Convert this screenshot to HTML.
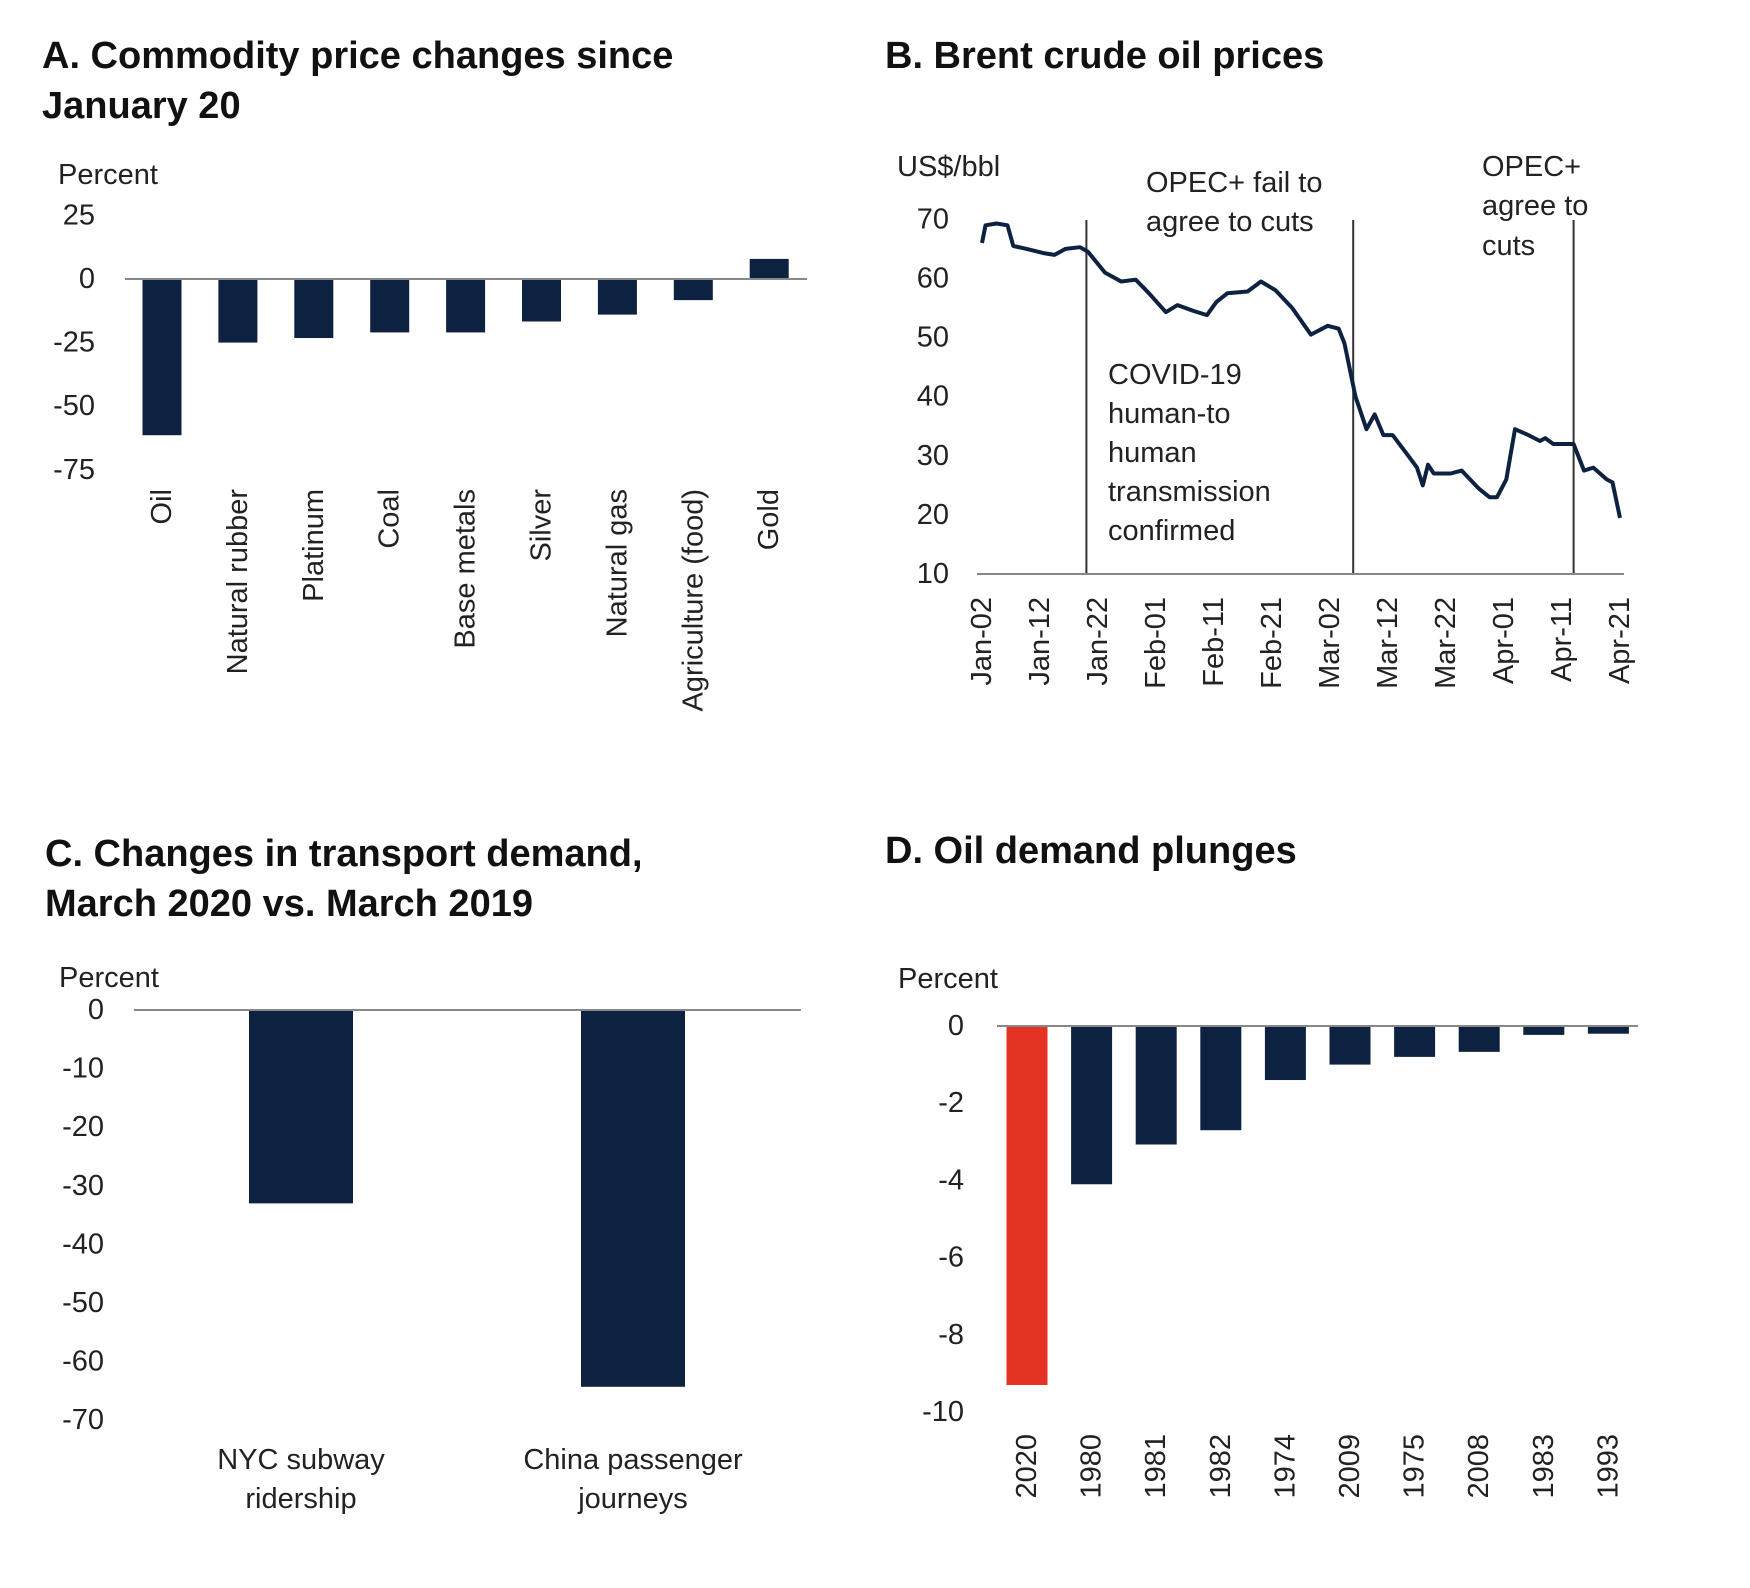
<!DOCTYPE html>
<html><head><meta charset="utf-8"><style>
html,body{margin:0;padding:0;background:#fff}
svg{display:block;font-family:"Liberation Sans",Arial,sans-serif}
.t{font-weight:bold;font-size:38px;fill:#111}
.k{font-size:29px;fill:#222}
</style></head><body>
<svg id="s" width="1750" height="1588" viewBox="0 0 1750 1588" xmlns="http://www.w3.org/2000/svg">
<text class="t" x="42" y="56" dominant-baseline="central">A. Commodity price changes since</text>
<text class="t" x="42" y="106" dominant-baseline="central">January 20</text>
<text class="t" x="885" y="56" dominant-baseline="central">B. Brent crude oil prices</text>
<text class="t" x="45" y="854" dominant-baseline="central">C. Changes in transport demand,</text>
<text class="t" x="45" y="904" dominant-baseline="central">March 2020 vs. March 2019</text>
<text class="t" x="885" y="851" dominant-baseline="central">D. Oil demand plunges</text>
<text class="k" x="58" y="175" dominant-baseline="central">Percent</text>
<text class="k" x="897" y="167" dominant-baseline="central">US$/bbl</text>
<text class="k" x="59" y="978" dominant-baseline="central">Percent</text>
<text class="k" x="898" y="979" dominant-baseline="central">Percent</text>
<g>
<text class="k" x="1146" y="183" dominant-baseline="central">OPEC+ fail to</text>
<text class="k" x="1146" y="222" dominant-baseline="central">agree to cuts</text></g>
<g>
<text class="k" x="1482" y="167" dominant-baseline="central">OPEC+</text>
<text class="k" x="1482" y="206" dominant-baseline="central">agree to</text>
<text class="k" x="1482" y="246" dominant-baseline="central">cuts</text></g>
<g>
<text class="k" x="1108" y="375" dominant-baseline="central">COVID-19</text>
<text class="k" x="1108" y="414" dominant-baseline="central">human-to</text>
<text class="k" x="1108" y="453" dominant-baseline="central">human</text>
<text class="k" x="1108" y="492" dominant-baseline="central">transmission</text>
<text class="k" x="1108" y="531" dominant-baseline="central">confirmed</text></g>
</svg>
<script>
// Panel A data
const aCats=["Oil","Natural rubber","Platinum","Coal","Base metals","Silver","Natural gas","Agriculture (food)","Gold"];
const aVals=[-61.4,-25,-23.2,-21,-21,-16.7,-14,-8.3,7.9];
const aTicks=[25,0,-25,-50,-75];
// Panel B data (days since Jan-02, price)
const bDays=[0,0.6,2.5,4.4,5.4,7.7,10.6,12.5,14.4,16.9,18.3,21.2,24,26.5,28.8,31.7,33.7,36.5,38.8,40.4,42.3,45.8,48.1,50.6,53.5,56.7,59.6,61.5,62.5,64.4,66.3,67.7,69.2,70.8,73.5,75,76,76.9,77.9,80.8,82.7,85.6,87.5,88.8,90.4,91.9,94.2,96.2,97.1,98.5,101,102,103.8,105.4,107.7,108.7,110];
const bVals=[66,69,69.3,69,65.5,65,64.3,64,65,65.3,64.5,61,59.5,59.8,57.5,54.3,55.5,54.5,53.8,56,57.5,57.8,59.5,58,55,50.5,52,51.5,49,40,34.5,37,33.5,33.5,30,28,25,28.5,27,27,27.5,24.5,23,23,26,34.5,33.5,32.5,33,32,32,32,27.5,28,26,25.5,19.5];
const bTicks=[70,60,50,40,30,20,10];
const bLabels=["Jan-02","Jan-12","Jan-22","Feb-01","Feb-11","Feb-21","Mar-02","Mar-12","Mar-22","Apr-01","Apr-11","Apr-21"];
const bEvents=[18,64,102];
// Panel C data
const cCats=["NYC subway|ridership","China passenger|journeys"];
const cVals=[-33,-64.3];
const cTicks=[0,-10,-20,-30,-40,-50,-60,-70];
// Panel D data
const dCats=["2020","1980","1981","1982","1974","2009","1975","2008","1983","1993"];
const dVals=[-9.3,-4.1,-3.07,-2.7,-1.4,-1.0,-0.8,-0.67,-0.23,-0.2];
const dTicks=[0,-2,-4,-6,-8,-10];

const NS="http://www.w3.org/2000/svg",S=document.getElementById('s');
function mk(t,a,p){const e=document.createElementNS(NS,t);for(const k in a)e.setAttribute(k,a[k]);(p||S).appendChild(e);return e;}
const NAVY="#0d2240";

// A
const aY=v=>279-v*63.6/25, aX=i=>162+i*75.9;
let g=mk('g',{});


aTicks.forEach(t=>{const e=mk('text',{x:95,y:aY(t),'text-anchor':'end','dominant-baseline':'central','class':'k'},g);e.textContent=t;

});
aVals.forEach((v,i)=>{const r=mk('rect',{x:aX(i)-19.5,y:Math.min(aY(v),aY(0)),width:39,height:Math.abs(aY(v)-aY(0)),fill:NAVY},g);


const e=mk('text',{x:0,y:0,'text-anchor':'end','dominant-baseline':'central','class':'k',transform:`translate(${aX(i)},489) rotate(-90)`,'font-size':27},g);e.textContent=aCats[i];

});
let l=mk('line',{x1:125,x2:807,y1:aY(0),y2:aY(0),stroke:'#888','stroke-width':2},g);



// B
const bY=v=>574-(v-10)*5.91, bX=d=>982+d*5.80;
g=mk('g',{});


bTicks.forEach(t=>{const e=mk('text',{x:949,y:bY(t),'text-anchor':'end','dominant-baseline':'central','class':'k'},g);e.textContent=t;

});
bLabels.forEach((s,i)=>{const e=mk('text',{x:0,y:0,'text-anchor':'end','dominant-baseline':'central','class':'k',transform:`translate(${bX(i*10)},597) rotate(-90)`},g);e.textContent=s;

});
bEvents.forEach(d=>{const e=mk('line',{x1:bX(d),x2:bX(d),y1:220,y2:bY(10),stroke:'#333','stroke-width':2},g);

});
l=mk('line',{x1:977,x2:1624,y1:bY(10),y2:bY(10),stroke:'#888','stroke-width':2},g);


const p=mk('path',{d:bDays.map((d,i)=>(i?'L':'M')+bX(d).toFixed(1)+','+bY(bVals[i]).toFixed(1)).join(''),fill:'none',stroke:NAVY,'stroke-width':4,'stroke-linejoin':'round'},g);



// C
const cY=v=>1010-v*5.86, cX=[301,633];
g=mk('g',{});


cTicks.forEach(t=>{const e=mk('text',{x:104,y:cY(t),'text-anchor':'end','dominant-baseline':'central','class':'k'},g);e.textContent=t;

});
cVals.forEach((v,i)=>{const r=mk('rect',{x:cX[i]-52,y:cY(0),width:104,height:cY(v)-cY(0),fill:NAVY},g);


cCats[i].split('|').forEach((s,j)=>{const e=mk('text',{x:cX[i],y:1460+j*39,'text-anchor':'middle','dominant-baseline':'central','class':'k'},g);e.textContent=s;

});});
l=mk('line',{x1:134,x2:801,y1:cY(0),y2:cY(0),stroke:'#888','stroke-width':2},g);



// D
const dY=v=>1026-v*38.6, dX=i=>1027+i*64.6;
g=mk('g',{});


dTicks.forEach(t=>{const e=mk('text',{x:964,y:dY(t),'text-anchor':'end','dominant-baseline':'central','class':'k'},g);e.textContent=t;

});
dVals.forEach((v,i)=>{const r=mk('rect',{x:dX(i)-20.5,y:dY(0),width:41,height:dY(v)-dY(0),fill:i?NAVY:'#e43322'},g);


const e=mk('text',{x:0,y:0,'text-anchor':'end','dominant-baseline':'central','class':'k',transform:`translate(${dX(i)},1434) rotate(-90)`},g);e.textContent=dCats[i];

});
l=mk('line',{x1:997,x2:1638,y1:dY(0),y2:dY(0),stroke:'#888','stroke-width':2},g);


</script>
</body></html>
